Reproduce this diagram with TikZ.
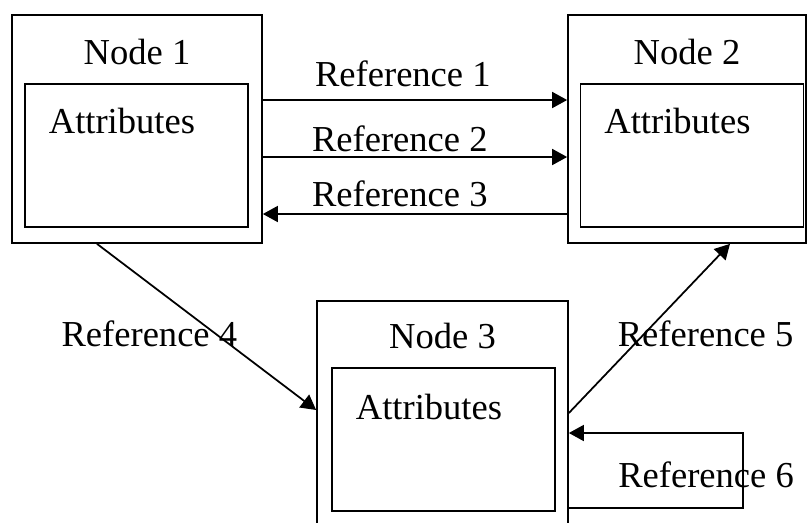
\documentclass[tikz,border=0pt]{standalone}
\usepackage{fontspec}
\setmainfont{Liberation Serif}
\usepackage{tikz}
\usetikzlibrary{arrows.meta,positioning}

\begin{document}
\begin{tikzpicture}[x=0.02cm,y=-0.02cm,line width=1pt,
    font=\fontsize{20.8}{24}\selectfont,
    >={Triangle[length=0.3cm,width=0.32cm]},
    nodebox/.style={draw,rectangle,inner sep=0pt},
    attrbox/.style={draw,rectangle,inner sep=0pt,minimum width=4.46cm,minimum height=2.86cm}]
    \useasboundingbox (0,0) rectangle (808,522);
       % outer boxes
       \node[nodebox,minimum width=5cm,minimum height=4.56cm]    (n1) at (137,129)     {};
       \node[nodebox,minimum width=4.76cm,minimum height=4.56cm] (n2) at (687,129)     {};
       \node[nodebox,minimum width=5.02cm,minimum height=4.78cm] (n3) at (442.5,420.5) {};
       % attribute boxes
       \node[attrbox] (a1) at (136.5,155.5) {};
       \node[attrbox] (a2) at (692,155.5)   {};
       \node[attrbox] (a3) at (443.5,439.5) {};
       % titles
       \node (t1) [below=0.36cm of n1.north] {Node 1};
       \node (t2) [below=0.36cm of n2.north] {Node 2};
       \node (t3) [below=0.32cm of n3.north] {Node 3};
       \node (l1) [below right=0.36cm and 0.36cm of a1.north west] {Attributes};
       \node (l2) [below right=0.36cm and 0.36cm of a2.north west] {Attributes};
       \node (l3) [below right=0.4cm and 0.36cm of a3.north west]  {Attributes};
       \coordinate (c6) at (743,433);
        \path[->]
        (n1.east |- 0,100) edge node[above,pos=0.46,yshift=0.12cm]  {Reference 1} (n2.west |- 0,100)
        (n1.east |- 0,157) edge node[above,pos=0.45,yshift=-0.04cm] {Reference 2} (n2.west |- 0,157)
        (n2.west |- 0,214) edge node[above,pos=0.55] {Reference 3} (n1.east |- 0,214)
        (97,0 |- n1.south) edge node[pos=0.54,xshift=-1.32cm] {Reference 4} (n3.west |- 0,410)
        (n3.east |- 0,413) edge node[pos=0.47,xshift=1.22cm] {Reference 5} (730,0 |- n2.south);
        \draw[->] (n3.east |- 0,508) -| node[pos=0.75,xshift=-0.74cm,yshift=-0.08cm] {Reference 6} (c6)
            -- (n3.east |- c6);
    \end{tikzpicture}
\end{document}
